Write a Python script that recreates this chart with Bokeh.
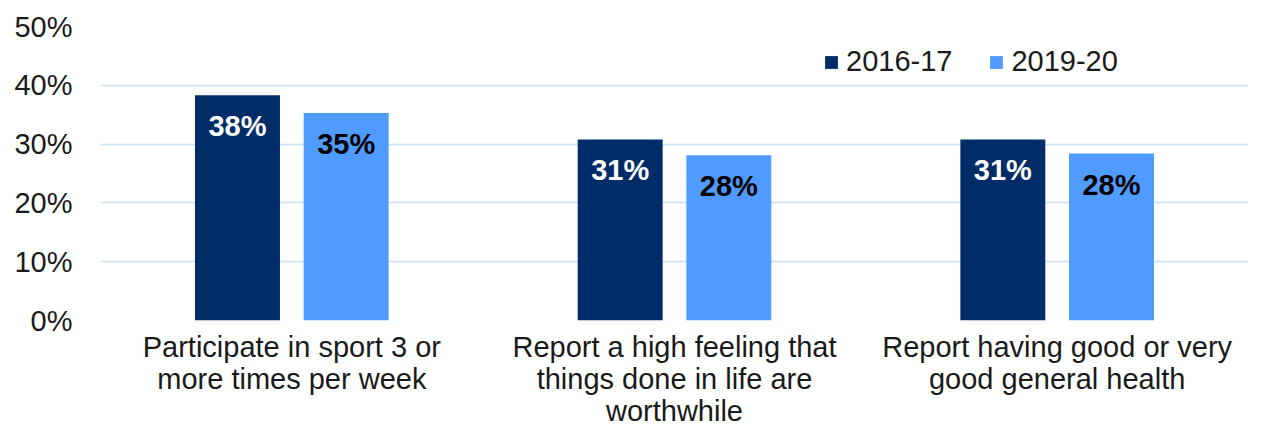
from bokeh.plotting import figure
from bokeh.models import ColumnDataSource, FactorRange, Legend, LegendItem, Range1d
from bokeh.transform import dodge
from bokeh.core.properties import value
from bokeh.embed import file_html
from bokeh.resources import INLINE

categories = ["Participate in sport 3 or\nmore times per week",
              "Report a high feeling that\nthings done in life are\nworthwhile",
              "Report having good or very\ngood general health"]
series_names = ["2016-17", "2019-20"]
values_2016 = [38.3, 30.8, 30.8]
values_2019 = [35.3, 28.1, 28.4]
labels_2016 = ["38%", "31%", "31%"]
labels_2019 = ["35%", "28%", "28%"]
y_ticks = [0, 10, 20, 30, 40, 50]
y_tick_labels = ["0%", "10%", "20%", "30%", "40%", "50%"]

DARK = "#002D67"
LIGHT = "#4F9BFF"
FONT = "Liberation Sans"
FS = "29px"

src = ColumnDataSource(dict(cat=categories, v1=values_2016, v2=values_2019,
                            l1=labels_2016, l2=labels_2019))

p = figure(x_range=FactorRange(*categories), y_range=Range1d(0, 50),
           width=1248, height=429, output_backend="svg", toolbar_location=None,
           min_border_left=100, min_border_right=0, min_border_top=26, min_border_bottom=0)

r1 = p.vbar(x=dodge("cat", -0.142, range=p.x_range), top="v1", width=0.222, source=src,
            color=DARK, line_color=None)
r2 = p.vbar(x=dodge("cat", 0.142, range=p.x_range), top="v2", width=0.222, source=src,
            color=LIGHT, line_color=None)

p.text(x=dodge("cat", -0.142, range=p.x_range), y="v1", text="l1", source=src,
       text_align="center", text_baseline="middle", y_offset=31,
       text_font=value(FONT), text_font_size=FS, text_font_style="bold", text_color="white")
p.text(x=dodge("cat", 0.142, range=p.x_range), y="v2", text="l2", source=src,
       text_align="center", text_baseline="middle", y_offset=31,
       text_font=value(FONT), text_font_size=FS, text_font_style="bold", text_color="black")

p.outline_line_color = None
p.xgrid.grid_line_color = None
p.ygrid.grid_line_color = "#CCE0FA"
p.ygrid.grid_line_width = 1.5

p.yaxis.ticker = y_ticks
p.yaxis.major_label_overrides = dict(zip(y_ticks, y_tick_labels))
p.yaxis.axis_line_color = None
p.yaxis.major_tick_line_color = None
p.yaxis.minor_tick_line_color = None
p.yaxis.major_tick_out = 0
p.yaxis.major_label_standoff = 28
p.yaxis.major_label_text_font = FONT
p.yaxis.major_label_text_font_size = FS
p.yaxis.major_label_text_color = "#1a1a1a"

p.xaxis.axis_line_color = None
p.xaxis.major_tick_line_color = None
p.xaxis.major_tick_out = 0
p.xaxis.major_tick_in = 0
p.xaxis.major_label_standoff = 10
p.xaxis.major_label_text_font = FONT
p.xaxis.major_label_text_font_size = FS
p.xaxis.major_label_text_color = "#1a1a1a"
p.xaxis.major_label_text_line_height = 1.0
p.x_range.range_padding = 0
p.x_range.group_padding = 0

legend = Legend(items=[LegendItem(label=series_names[0], renderers=[r1]),
                       LegendItem(label=series_names[1], renderers=[r2])],
                location=(723, 242), orientation="horizontal",
                border_line_color=None, background_fill_alpha=0,
                glyph_width=16, glyph_height=16, padding=0, margin=0, spacing=36,
                label_standoff=7, label_text_font=FONT, label_text_font_size=FS,
                label_text_color="#1a1a1a")
p.add_layout(legend)

open("out.html", "w").write(file_html(p, INLINE))
